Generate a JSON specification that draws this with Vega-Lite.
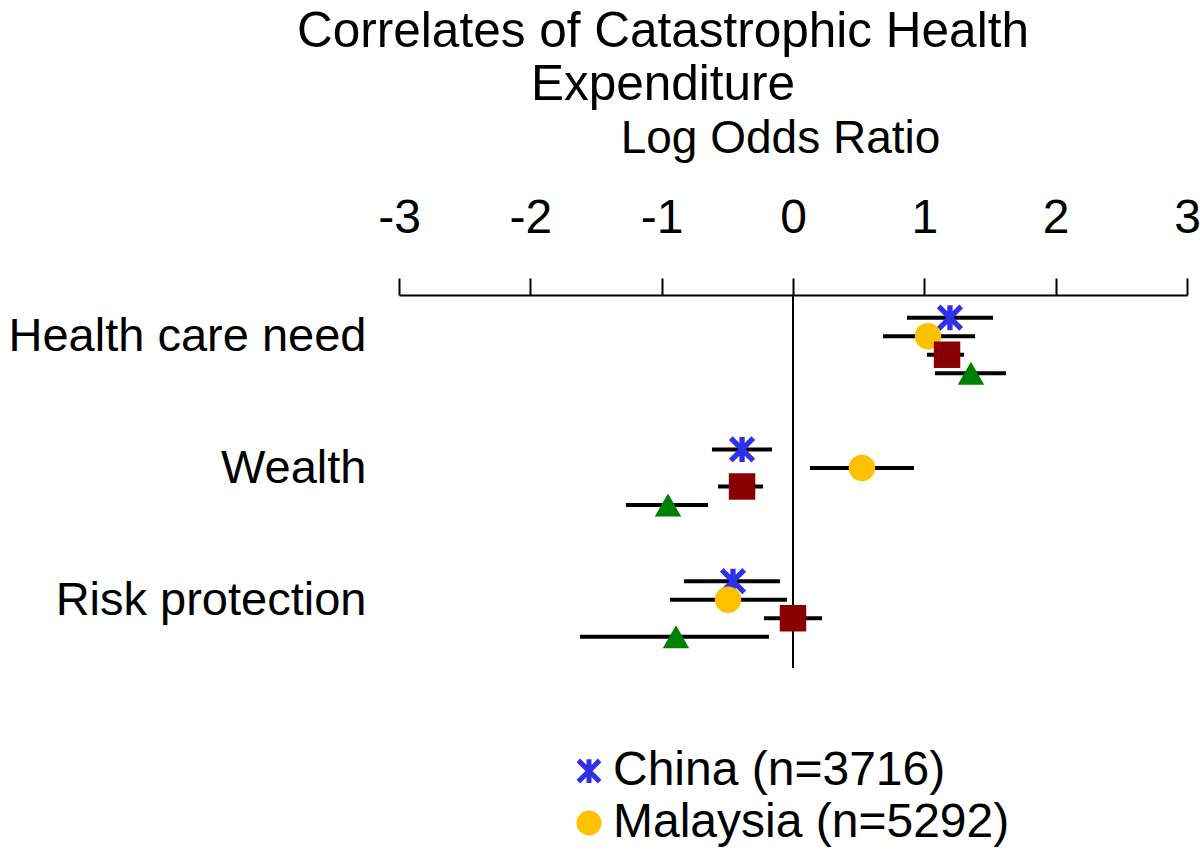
{
  "$schema": "https://vega.github.io/schema/vega-lite/v6.json",
  "width": 788,
  "height": 373,
  "autosize": {"type": "none"},
  "padding": {"left": 399, "top": 295, "right": 13, "bottom": 189},
  "background": "white",
  "title": {
    "text": ["Correlates of Catastrophic Health", "Expenditure"],
    "font": "Liberation Sans",
    "fontSize": 49.5,
    "fontWeight": "normal",
    "color": "black",
    "anchor": "middle",
    "frame": "group",
    "dx": -130,
    "offset": 5,
    "lineHeight": 53
  },
  "datasets": {
    "est": [
      {"cat": "Health care need", "series": "China (n=3716)", "est": 1.195, "lo": 0.868, "hi": 1.523},
      {"cat": "Health care need", "series": "Malaysia (n=5292)", "est": 1.028, "lo": 0.685, "hi": 1.386},
      {"cat": "Health care need", "series": "Series 3", "est": 1.173, "lo": 1.02, "hi": 1.302},
      {"cat": "Health care need", "series": "Series 4", "est": 1.355, "lo": 1.081, "hi": 1.622},
      {"cat": "Wealth", "series": "China (n=3716)", "est": -0.388, "lo": -0.617, "hi": -0.16},
      {"cat": "Wealth", "series": "Malaysia (n=5292)", "est": 0.525, "lo": 0.129, "hi": 0.921},
      {"cat": "Wealth", "series": "Series 3", "est": -0.388, "lo": -0.571, "hi": -0.228},
      {"cat": "Wealth", "series": "Series 4", "est": -0.952, "lo": -1.272, "hi": -0.647},
      {"cat": "Risk protection", "series": "China (n=3716)", "est": -0.457, "lo": -0.83, "hi": -0.099},
      {"cat": "Risk protection", "series": "Malaysia (n=5292)", "est": -0.495, "lo": -0.937, "hi": -0.046},
      {"cat": "Risk protection", "series": "Series 3", "est": 0.0, "lo": -0.221, "hi": 0.221},
      {"cat": "Risk protection", "series": "Series 4", "est": -0.891, "lo": -1.622, "hi": -0.183}
    ],
    "zero": [{"z": 0}]
  },
  "layer": [
    {
      "data": {"name": "zero"},
      "mark": {"type": "rule", "color": "black", "strokeWidth": 2},
      "encoding": {
        "x": {"field": "z", "type": "quantitative", "title": "Log Odds Ratio",
              "scale": {"domain": [-3, 3], "nice": false, "zero": false},
              "axis": {"values": [-3, -2, -1, 0, 1, 2, 3], "labelExpr": "'' + datum.value", "titleX": 381}}
      }
    },
    {
      "data": {"name": "est"},
      "mark": {"type": "rule", "color": "black", "strokeWidth": 4},
      "encoding": {
        "x": {"field": "lo", "type": "quantitative", "title": "Log Odds Ratio",
              "scale": {"domain": [-3, 3], "nice": false, "zero": false},
              "axis": {"values": [-3, -2, -1, 0, 1, 2, 3], "labelExpr": "'' + datum.value", "titleX": 381}},
        "x2": {"field": "hi"},
        "y": {"field": "cat", "type": "nominal", "title": null,
              "sort": ["Health care need", "Wealth", "Risk protection"],
              "scale": {"paddingInner": 0.241, "paddingOuter": 0.036, "align": 0.05}},
        "yOffset": {"field": "series", "type": "nominal",
                    "scale": {"domain": ["China (n=3716)", "Malaysia (n=5292)", "Series 3", "Series 4"], "paddingInner": 0, "paddingOuter": 0.7}}
      }
    },
    {
      "data": {"name": "est"},
      "mark": {"type": "point", "filled": true, "opacity": 1, "size": 700, "strokeWidth": 0},
      "encoding": {
        "x": {"field": "est", "type": "quantitative", "title": "Log Odds Ratio",
              "scale": {"domain": [-3, 3], "nice": false, "zero": false},
              "axis": {"values": [-3, -2, -1, 0, 1, 2, 3], "labelExpr": "'' + datum.value", "titleX": 381}},
        "y": {"field": "cat", "type": "nominal", "title": null,
              "sort": ["Health care need", "Wealth", "Risk protection"]},
        "yOffset": {"field": "series", "type": "nominal"},
        "color": {"field": "series", "type": "nominal",
                  "scale": {"domain": ["China (n=3716)", "Malaysia (n=5292)", "Series 3", "Series 4"],
                            "range": ["#3030EA", "#FFC000", "#880000", "#008000"]},
                  "legend": {"values": ["China (n=3716)", "Malaysia (n=5292)"]}},
        "shape": {"field": "series", "type": "nominal",
                  "scale": {"domain": ["China (n=3716)", "Malaysia (n=5292)", "Series 3", "Series 4"],
                            "range": ["M-0.709,-0.991L0.991,0.709L0.709,0.991L-0.991,-0.709ZM0.991,-0.709L-0.709,0.991L-0.991,0.709L0.709,-0.991ZM-0.2,-0.95L0.2,-0.95L0.2,0.95L-0.2,0.95Z", "circle", "square", "triangle-up"]},
                  "legend": {"values": ["China (n=3716)", "Malaysia (n=5292)"]}}
      }
    }
  ],
  "config": {
    "font": "Liberation Sans",
    "view": {"stroke": null},
    "axisX": {
      "orient": "top",
      "grid": false,
      "domainColor": "black",
      "domainWidth": 2,
      "tickColor": "black",
      "tickWidth": 2,
      "tickSize": 17,
      "labelFontSize": 48,
      "labelColor": "black",
      "labelFlush": false,
      "labelPadding": 36,
      "titleFontSize": 46,
      "titleFontWeight": "normal",
      "titleColor": "black",
      "titlePadding": 32
    },
    "axisY": {
      "domain": false,
      "ticks": false,
      "grid": false,
      "labelFontSize": 47,
      "labelColor": "black",
      "labelPadding": 33,
      "labelOffset": -8,
      "labelLimit": 600
    },
    "legend": {
      "orient": "none",
      "legendX": 166,
      "legendY": 452,
      "padding": 0,
      "title": null,
      "labelFontSize": 48,
      "labelColor": "black",
      "labelOffset": 0,
      "labelLimit": 800,
      "symbolSize": 625,
      "symbolStrokeWidth": 0,
      "symbolOpacity": 1,
      "rowPadding": 4
    }
  }
}
